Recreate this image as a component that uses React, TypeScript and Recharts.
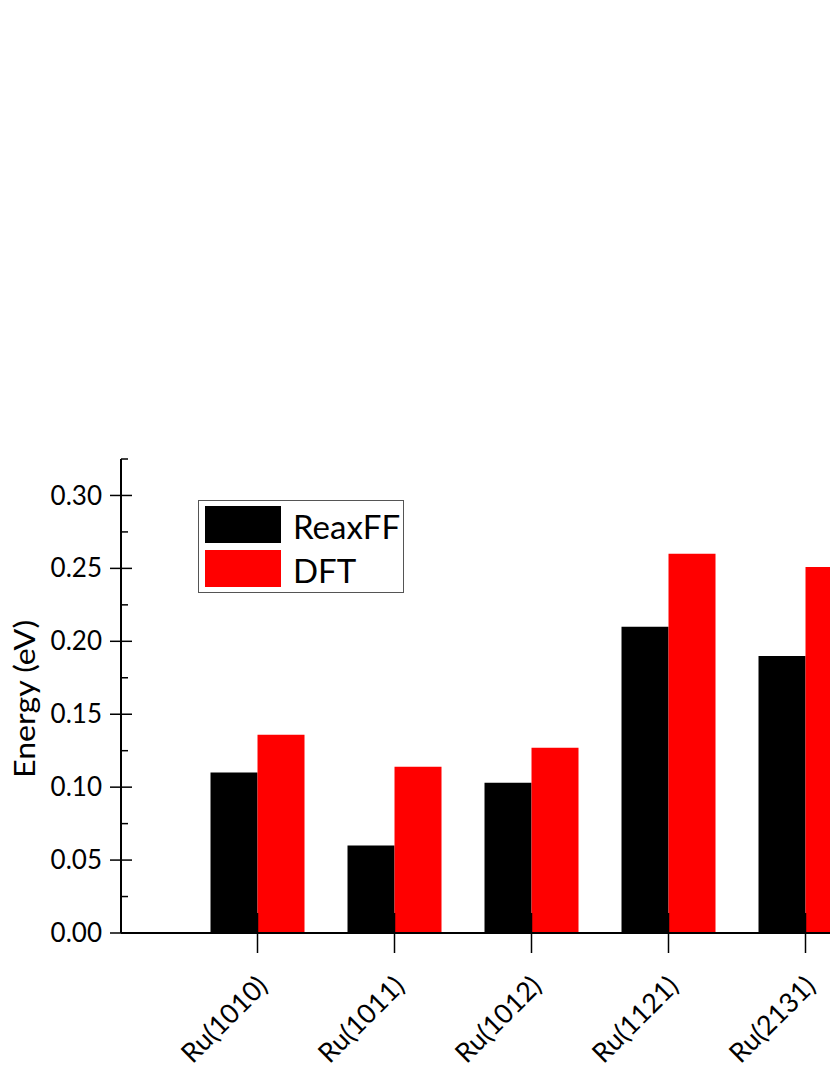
import { BarChart, Bar, XAxis, YAxis } from "recharts";

const surfaces = ["Ru(1010)", "Ru(1011)", "Ru(1012)", "Ru(1121)", "Ru(2131)"];
const reaxff = [0.11, 0.06, 0.103, 0.21, 0.19];
const dft = [0.136, 0.114, 0.127, 0.26, 0.251];
const yTicks = [0, 0.025, 0.05, 0.075, 0.1, 0.125, 0.15, 0.175, 0.2, 0.225, 0.25, 0.275, 0.3, 0.325];

const data = surfaces.map((name, i) => ({ name, ReaxFF: reaxff[i], DFT: dft[i] }));

const FONT = "Lato, 'Open Sans', sans-serif";

const YTick = (props: any) => {
  const { x, y, payload } = props;
  const v = payload.value as number;
  const major = Math.round(v * 1000) % 50 === 0;
  if (!major) {
    return <line x1={x} x2={x + 7} y1={y} y2={y} stroke="#000" strokeWidth={1.5} />;
  }
  return (
    <g>
      <line x1={x - 11} x2={x + 11} y1={y} y2={y} stroke="#000" strokeWidth={1.5} />
      <text x={x - 19} y={y} dy="0.35em" textAnchor="end" fontSize={26} fontFamily={FONT} fill="#000">
        {v.toFixed(2)}
      </text>
    </g>
  );
};

const XTick = (props: any) => {
  const { x, y, payload } = props;
  const tx = x + 5;
  const ty = y + 48;
  return (
    <g>
      <line x1={x} x2={x} y1={y - 20} y2={y + 20} stroke="#000" strokeWidth={1.5} />
      <text
        x={tx}
        y={ty}
        dy="0.35em"
        textAnchor="end"
        transform={`rotate(-45, ${tx}, ${ty})`}
        fontSize={27}
        fontFamily={FONT}
        fill="#000"
      >
        {payload.value}
      </text>
    </g>
  );
};

const YTitle = (props: any) => {
  const vb = props.viewBox || {};
  const cx = vb.x + 25;
  const cy = vb.y + vb.height / 2 + 3;
  return (
    <text
      x={cx}
      y={cy}
      dy="0.35em"
      textAnchor="middle"
      transform={`rotate(-90, ${cx}, ${cy})`}
      fontSize={28}
      fontFamily={FONT}
      fill="#000"
      textLength={158}
      lengthAdjust="spacingAndGlyphs"
    >
      Energy (eV)
    </text>
  );
};

const series = [
  { label: "ReaxFF", color: "#000" },
  { label: "DFT", color: "#ff0000" },
];

export default function App() {
  return (
    <div style={{ position: "absolute", left: 0, top: 0, width: 830, height: 1075, overflow: "hidden", background: "#fff" }}>
      <BarChart
        width={880}
        height={1075}
        data={data}
        margin={{ top: 459, right: 6, bottom: 0, left: 0 }}
        barGap={0}
        barCategoryGap="15.7%"
      >
        <XAxis
          dataKey="name"
          padding={{ left: 68, right: 0 }}
          axisLine={{ stroke: "#000", strokeWidth: 2 }}
          tickLine={false}
          tickSize={0}
          tickMargin={0}
          tick={<XTick />}
          interval={0}
          height={142}
        />
        <YAxis
          domain={[0, 0.325]}
          ticks={yTicks}
          interval={0}
          axisLine={{ stroke: "#000", strokeWidth: 2 }}
          tickLine={false}
          tickSize={0}
          tickMargin={0}
          tick={<YTick />}
          width={121}
          label={{ content: <YTitle /> }}
        />
        <Bar dataKey="ReaxFF" fill="#000" isAnimationActive={false} />
        <Bar dataKey="DFT" fill="#ff0000" isAnimationActive={false} />
      </BarChart>
      <div
        style={{
          position: "absolute",
          left: 198,
          top: 500,
          border: "1px solid #555",
          width: 204,
          height: 91,
          background: "#fff",
          fontFamily: FONT,
          fontSize: 33,
        }}
      >
        {series.map((s, i) => (
          <div key={s.label} style={{ position: "absolute", left: 6, top: 5 + i * 44, display: "flex", alignItems: "center" }}>
            <div style={{ width: 76, height: 37, background: s.color }} />
            <span style={{ marginLeft: 12, lineHeight: "37px", position: "relative", top: 2 }}>{s.label}</span>
          </div>
        ))}
      </div>
    </div>
  );
}
